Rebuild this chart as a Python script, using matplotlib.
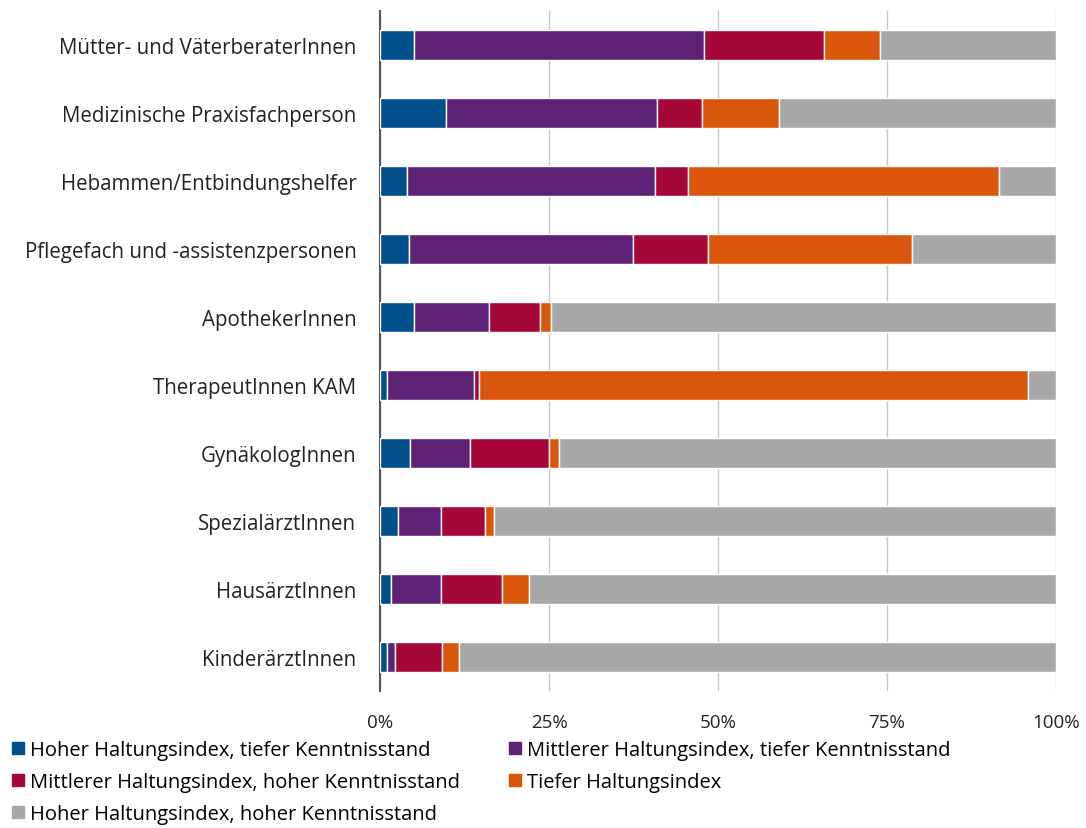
import numpy as np
import matplotlib.pyplot as plt
from matplotlib.ticker import PercentFormatter
from matplotlib.lines import Line2D

# categories, top to bottom
categories = [
    'Mütter- und VäterberaterInnen',
    'Medizinische Praxisfachperson',
    'Hebammen/Entbindungshelfer',
    'Pflegefach und -assistenzpersonen',
    'ApothekerInnen',
    'TherapeutInnen KAM',
    'GynäkologInnen',
    'SpezialärztInnen',
    'HausärztInnen',
    'KinderärztInnen',
]

series_names = [
    'Hoher Haltungsindex, tiefer Kenntnisstand',
    'Mittlerer Haltungsindex, tiefer Kenntnisstand',
    'Mittlerer Haltungsindex, hoher Kenntnisstand',
    'Tiefer Haltungsindex',
    'Hoher Haltungsindex, hoher Kenntnisstand',
]

# shares in percent
hoch_tief = [5.1, 9.8, 4.0, 4.3, 5.1, 1.1, 4.4, 2.6, 1.6, 1.1]
mittel_tief = [42.8, 31.2, 36.7, 33.1, 11.0, 12.8, 8.9, 6.4, 7.4, 1.1]
mittel_hoch = [17.8, 6.6, 4.8, 11.1, 7.5, 0.8, 11.7, 6.5, 9.0, 7.0]
tief = [8.2, 11.4, 46.1, 30.2, 1.7, 81.1, 1.5, 1.3, 4.1, 2.5]
hoch_hoch = [26.1, 41.0, 8.4, 21.3, 74.7, 4.2, 73.5, 83.2, 77.9, 88.3]

colors = ['#004f8a', '#5e2176', '#a60739', '#d9560b', '#a8a8a8']

plt.rcParams['font.family'] = ['Open Sans', 'DejaVu Sans']

fig = plt.figure(figsize=(10.86, 8.29), dpi=100)
ax = fig.add_axes([380 / 1086, 1 - 692 / 829, 676 / 1086, 680 / 829])

y = np.arange(len(categories))
left = np.zeros(len(categories))
for name, vals, col in zip(series_names,
                           [hoch_tief, mittel_tief, mittel_hoch, tief, hoch_hoch],
                           colors):
    vals = np.array(vals)
    ax.barh(y, vals, left=left, height=0.45, color=col, edgecolor='white',
            linewidth=1.0, label=name, zorder=3)
    left += vals

ax.set_ylim(len(categories) - 0.5, -0.5)
ax.set_xlim(0, 100)
ax.set_yticks(y)
ax.set_yticklabels(categories, fontsize=14.8, color='#222222')
ax.set_xticks([0, 25, 50, 75, 100])
ax.xaxis.set_major_formatter(PercentFormatter(decimals=0))
ax.tick_params(axis='x', length=0, pad=16, labelsize=13.5, labelcolor='#222222')
ax.tick_params(axis='y', length=0, pad=17)
ax.grid(axis='x', color='#c8c8c8', linewidth=1.0, zorder=0)

for s in ['top', 'right', 'bottom']:
    ax.spines[s].set_visible(False)
ax.spines['left'].set_color('#555555')
ax.spines['left'].set_linewidth(1.5)

# legend filled row by row like the original
order = [0, 2, 4, 1, 3]
handles = [Line2D([0], [0], marker='s', linestyle='', markersize=9,
                  markerfacecolor=colors[i], markeredgecolor=colors[i]) for i in order]
fig.legend(handles, [series_names[i] for i in order], loc='upper left',
           bbox_to_anchor=(0.0, 1 - 729 / 829), ncol=2, frameon=False,
           fontsize=14.5, handlelength=0.6, handletextpad=0.3,
           columnspacing=2.4, labelspacing=0.6, borderaxespad=0.2)

fig.savefig('out.png', dpi=100)
